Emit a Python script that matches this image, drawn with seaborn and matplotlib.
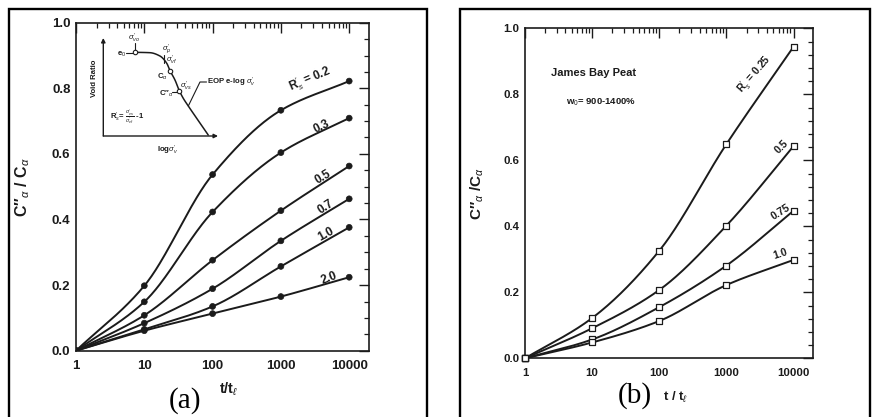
import numpy as np
import pandas as pd
import matplotlib
matplotlib.use("Agg")
import matplotlib.pyplot as plt
import seaborn as sns
from matplotlib.patches import Rectangle
from matplotlib.lines import Line2D
from matplotlib.ticker import FixedLocator, FixedFormatter, MultipleLocator

sns.set_theme(style="white")
plt.rcParams["font.family"] = ["Liberation Sans", "DejaVu Sans"]
plt.rcParams["mathtext.fontset"] = "custom"
plt.rcParams["mathtext.rm"] = "Liberation Sans"
plt.rcParams["mathtext.it"] = "Liberation Sans:italic"
plt.rcParams["mathtext.bf"] = "Liberation Sans:bold"

# ---- data -------------------------------------------------------------
t_ratio = [1, 10, 100, 1000, 10000]
x_ticks = [1, 10, 100, 1000, 10000]
x_tick_labels = ["1", "10", "100", "1000", "10000"]

# (a) secondary compression ratio for several R's values
rs_a = ["0.2", "0.3", "0.5", "0.7", "1.0", "2.0"]
ca_rs02 = [0.0, 0.198, 0.537, 0.733, 0.822]
ca_rs03 = [0.0, 0.149, 0.423, 0.604, 0.709]
ca_rs05 = [0.0, 0.108, 0.276, 0.427, 0.563]
ca_rs07 = [0.0, 0.084, 0.189, 0.335, 0.463]
ca_rs10 = [0.0, 0.065, 0.135, 0.257, 0.376]
ca_rs20 = [0.0, 0.061, 0.113, 0.165, 0.224]

# (b) James Bay Peat
rs_b = ["0.25", "0.5", "0.75", "1.0"]
cb_rs025 = [0.0, 0.122, 0.326, 0.649, 0.944]
cb_rs05 = [0.0, 0.091, 0.207, 0.402, 0.643]
cb_rs075 = [0.0, 0.057, 0.155, 0.281, 0.447]
cb_rs10 = [0.0, 0.048, 0.113, 0.222, 0.298]

# label anchors (t/t_l, ratio) and rotation for curve labels
lab_a_x = [2607, 3900, 4170, 4466, 4615, 5105]
lab_a_y = [0.828, 0.682, 0.530, 0.438, 0.356, 0.222]
lab_a_rot = [23, 26, 31, 33, 29, 21]
lab_b_x = [2630, 6637, 6412, 6412]
lab_b_y = [0.861, 0.640, 0.443, 0.316]
lab_b_rot = [49, 45, 32, 18]

# schematic e - log sigma'v curve for the inset (axes fractions)
inset_logs = [0.276, 0.407, 0.494, 0.553, 0.582, 0.625, 0.663, 0.697, 0.741, 0.814, 0.915]
inset_e = [0.854, 0.850, 0.816, 0.742, 0.666, 0.571, 0.462, 0.385, 0.306, 0.181, 0.010]
inset_pts_logs = [0.276, 0.582, 0.663]
inset_pts_e = [0.854, 0.666, 0.462]

INK = "#1b1b1b"
CSTAR = "C\u2033$_{\\alpha}$"


def pchip(xk, yk, xn):
    """Shape-preserving cubic through the points (smooth drawing of a curve)."""
    xk = np.asarray(xk, float)
    yk = np.asarray(yk, float)
    h = np.diff(xk)
    d = np.diff(yk) / h
    m = np.zeros_like(yk)
    for k in range(1, len(xk) - 1):
        if d[k - 1] * d[k] > 0:
            w1 = 2 * h[k] + h[k - 1]
            w2 = h[k] + 2 * h[k - 1]
            m[k] = (w1 + w2) / (w1 / d[k - 1] + w2 / d[k])
    m[0] = d[0]
    m[-1] = d[-1]
    out = np.empty_like(xn)
    for i, x in enumerate(xn):
        k = min(np.searchsorted(xk, x, side="right") - 1, len(xk) - 2)
        k = max(k, 0)
        s = (x - xk[k]) / h[k]
        h00 = 2 * s**3 - 3 * s**2 + 1
        h10 = s**3 - 2 * s**2 + s
        h01 = -2 * s**3 + 3 * s**2
        h11 = s**3 - s**2
        out[i] = h00 * yk[k] + h10 * h[k] * m[k] + h01 * yk[k + 1] + h11 * h[k] * m[k + 1]
    return out


def curves_frame(names, series):
    rows = []
    lx = np.log10(t_ratio)
    dense = np.linspace(lx[0], lx[-1], 200)
    for n, ys in zip(names, series):
        yy = pchip(lx, ys, dense)
        rows.append(pd.DataFrame({"t": 10 ** dense, "c": yy, "rs": n}))
    return pd.concat(rows, ignore_index=True)


def points_frame(names, series):
    rows = []
    for n, ys in zip(names, series):
        rows.append(pd.DataFrame({"t": t_ratio, "c": ys, "rs": n}))
    return pd.concat(rows, ignore_index=True)


def style_axes(ax, minor_y, fs):
    ax.set_xscale("log")
    ax.set_xlim(1, 19500)
    ax.set_ylim(0, 1.0)
    ax.xaxis.set_major_locator(FixedLocator(x_ticks))
    ax.xaxis.set_major_formatter(FixedFormatter(x_tick_labels))
    minors = [m * d for d in (1, 10, 100, 1000) for m in range(2, 10)]
    ax.xaxis.set_minor_locator(FixedLocator(minors))
    ax.xaxis.set_minor_formatter(FixedFormatter([""] * len(minors)))
    ax.yaxis.set_major_locator(MultipleLocator(0.2))
    ax.yaxis.set_minor_locator(MultipleLocator(minor_y))
    ax.yaxis.set_major_formatter(matplotlib.ticker.FormatStrFormatter("%.1f"))
    ax.tick_params(which="both", direction="in", top=True, right=True,
                   colors=INK, labelcolor=INK)
    ax.tick_params(which="major", length=7, width=1.0, labelsize=fs)
    ax.tick_params(which="minor", length=3.5, width=0.9)
    ax.tick_params(axis="x", which="major", pad=7)
    ax.tick_params(axis="y", which="major", pad=4)
    for lab in ax.get_xticklabels() + ax.get_yticklabels():
        lab.set_fontweight("bold")
    for sp in ax.spines.values():
        sp.set_visible(True)
        sp.set_color(INK)
        sp.set_linewidth(1.2)
    ax.set_facecolor("white")


W, H = 872, 417
fig = plt.figure(figsize=(W / 100, H / 100), dpi=100)

# ---- panel (a) --------------------------------------------------------
ax_a = fig.add_axes([76 / W, (H - 350.7) / H, (369 - 76) / W, 328 / H])
series_a = [ca_rs02, ca_rs03, ca_rs05, ca_rs07, ca_rs10, ca_rs20]
pal_a = {n: INK for n in rs_a}
sns.lineplot(data=curves_frame(rs_a, series_a), x="t", y="c", hue="rs",
             palette=pal_a, units="rs", estimator=None, lw=1.4, legend=False, ax=ax_a)
sns.scatterplot(data=points_frame(rs_a, series_a), x="t", y="c", hue="rs",
                palette=pal_a, marker="o", s=18, edgecolor=INK, linewidth=0.5,
                legend=False, ax=ax_a, zorder=5)
style_axes(ax_a, 0.05, 9.5)
ax_a.set_xlabel(r"t/t$_{\ell}$", fontsize=10.5, fontweight="bold", color=INK)
ax_a.xaxis.set_label_coords(0.522, -0.09)
ax_a.set_ylabel(CSTAR + r" / C$_{\alpha}$", fontsize=11.5, fontweight="bold", color=INK)
ax_a.yaxis.set_label_coords(-0.15, 0.5)

for i, n in enumerate(rs_a):
    txt = (r"R$^{\prime}_{s}$ = " + n) if i == 0 else n
    ax_a.text(lab_a_x[i], lab_a_y[i], txt, rotation=lab_a_rot[i], fontsize=8.5,
              fontweight="bold", color=INK, ha="center", va="center",
              rotation_mode="anchor")

# inset sketch
ins = fig.add_axes([103.3 / W, (H - 136) / H, 114.7 / W, 98 / H])
ins.set_xlim(0, 1)
ins.set_ylim(0, 1)
ins.patch.set_alpha(0)
for sp in ins.spines.values():
    sp.set_visible(False)
ins.set_xticks([])
ins.set_yticks([])
ins.annotate("", xy=(1.0, 0), xytext=(0, 0), xycoords="axes fraction",
             arrowprops=dict(arrowstyle="-|>", color=INK, lw=1.0, mutation_scale=6,
                             shrinkA=0, shrinkB=0))
ins.annotate("", xy=(0, 1.0), xytext=(0, 0), xycoords="axes fraction",
             arrowprops=dict(arrowstyle="-|>", color=INK, lw=1.0, mutation_scale=6,
                             shrinkA=0, shrinkB=0))
dense_u = np.linspace(inset_logs[0], inset_logs[-1], 120)
sns.lineplot(x=dense_u, y=pchip(inset_logs, inset_e, dense_u), color=INK, lw=1.1,
             ax=ins, estimator=None, sort=False)
ins.plot(inset_pts_logs, inset_pts_e, "o", ms=3.2, mfc="white", mec=INK, mew=0.8,
         zorder=5)
tfs = 5.6
kw = dict(color=INK, fontsize=tfs, fontweight="bold")
ins.text(0.16, 0.835, r"e$_0$", ha="center", va="center", **kw)
ins.add_line(Line2D([0.2, 0.255], [0.85, 0.85], color=INK, lw=0.8))
ins.add_line(Line2D([0.276, 0.276], [0.875, 0.95], color=INK, lw=0.8))
ins.text(0.27, 1.0, r"$\sigma^{\prime}_{vo}$", ha="center", va="center", **kw)
ins.text(0.55, 0.89, r"$\sigma^{\prime}_{p}$", ha="center", va="center", **kw)
ins.add_line(Line2D([0.53, 0.53], [0.745, 0.827], color=INK, lw=0.8))
ins.text(0.60, 0.775, r"$\sigma^{\prime}_{vf}$", ha="center", va="center", **kw)
ins.text(0.515, 0.60, r"C$_{\alpha}$", ha="center", va="center", **kw)
ins.text(0.72, 0.51, r"$\sigma^{\prime}_{vs}$", ha="center", va="center", **kw)
ins.text(0.55, 0.43, CSTAR, ha="center", va="center", **kw)
ins.add_line(Line2D([0.6, 0.645], [0.445, 0.445], color=INK, lw=0.8))
ins.add_line(Line2D([0.741, 0.843, 0.90], [0.306, 0.551, 0.551], color=INK, lw=0.8))
ins.text(0.905, 0.551, r"EOP e-log $\sigma^{\prime}_{v}$", ha="left", va="center", **kw)
ins.text(-0.075, 0.59, "Void Ratio", rotation=90, ha="center", va="center", **kw)
ins.text(0.06, 0.19,
         r"R$^{\prime}_{s}$= $\frac{\sigma^{\prime}_{vs}}{\sigma^{\prime}_{vf}}$ -1",
         ha="left", va="center", **kw)
ins.text(0.56, -0.15, r"log$\sigma^{\prime}_{v}$", ha="center", va="center", **kw)

# ---- panel (b) --------------------------------------------------------
ax_b = fig.add_axes([525 / W, (H - 358.3) / H, (813 - 525) / W, 330 / H])
series_b = [cb_rs025, cb_rs05, cb_rs075, cb_rs10]
pal_b = {n: INK for n in rs_b}
sns.lineplot(data=curves_frame(rs_b, series_b), x="t", y="c", hue="rs",
             palette=pal_b, units="rs", estimator=None, lw=1.4, legend=False, ax=ax_b)
sns.scatterplot(data=points_frame(rs_b, series_b), x="t", y="c", marker="s", s=22,
                facecolor="white", edgecolor=INK, linewidth=0.9, legend=False,
                ax=ax_b, zorder=5, clip_on=False)
style_axes(ax_b, 0.04, 8.2)
ax_b.set_xlabel(r"t / t$_{\ell}$", fontsize=9.5, fontweight="bold", color=INK)
ax_b.xaxis.set_label_coords(0.524, -0.095)
ax_b.set_ylabel(CSTAR + r" /C$_{\alpha}$", fontsize=11, fontweight="bold", color=INK)
ax_b.yaxis.set_label_coords(-0.135, 0.5)

for i, n in enumerate(rs_b):
    txt = (r"R$^{\prime}_{s}$ = " + n) if i == 0 else n
    ax_b.text(lab_b_x[i], lab_b_y[i], txt, rotation=lab_b_rot[i], fontsize=7.5,
              fontweight="bold", color=INK, ha="center", va="center",
              rotation_mode="anchor")
ax_b.text(10.6, 0.865, "James Bay Peat", fontsize=8, fontweight="bold", color=INK,
          ha="center", va="center")
ax_b.text(13.5, 0.777, r"w$_0$= 900-1400%", fontsize=6.8, fontweight="bold",
          color=INK, ha="center", va="center")

# ---- panel frames and letters ----------------------------------------
for x0, x1 in ((9, 427), (460, 870)):
    fig.add_artist(Rectangle((x0 / W, -0.05), (x1 - x0) / W, 1 - 9 / H + 0.05,
                             transform=fig.transFigure, fill=False, lw=1.7,
                             edgecolor="black", clip_on=False))
fig.text(185 / W, 1 - 401 / H, "(a)", family="Liberation Serif", fontsize=21,
         ha="center", va="center", color="black")
fig.text(635 / W, 1 - 396 / H, "(b)", family="Liberation Serif", fontsize=21,
         ha="center", va="center", color="black")

fig.savefig("out.png", dpi=100, facecolor="white")
